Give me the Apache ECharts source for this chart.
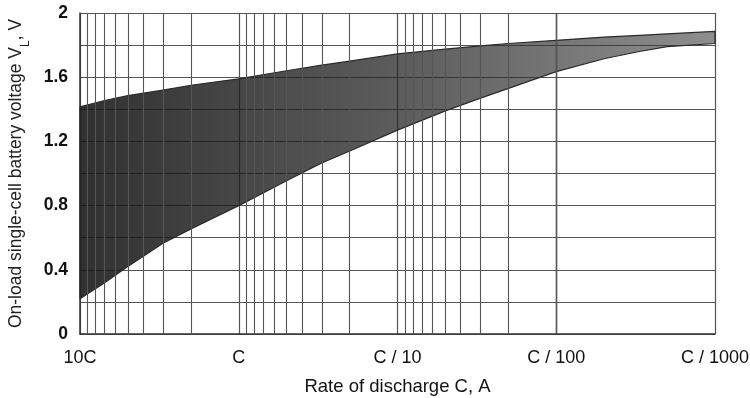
<!DOCTYPE html>
<html>
<head>
<meta charset="utf-8">
<script src="https://cdn.jsdelivr.net/npm/echarts@6/dist/echarts.min.js"></script>
<style>
html,body{margin:0;padding:0;background:#fff;}
#chart{width:750px;height:398px;}
</style>
</head>
<body>
<div id="chart"></div>
<script>
// Rate of discharge, as a multiple of C (10C ... C/1000)
var rates = [10, 7, 5, 3, 2, 1, 0.5, 0.3, 0.2, 0.1, 0.05, 0.03, 0.02, 0.01, 0.005, 0.003, 0.002, 0.001];
// Upper boundary of the voltage band, V
var upperV = [1.415, 1.455, 1.485, 1.52, 1.55, 1.59, 1.64, 1.675, 1.70, 1.745, 1.775, 1.795, 1.81, 1.83, 1.85, 1.86, 1.87, 1.885];
// Lower boundary of the voltage band, V
var lowerV = [0.22, 0.32, 0.42, 0.565, 0.655, 0.80, 0.955, 1.065, 1.14, 1.27, 1.39, 1.47, 1.53, 1.635, 1.715, 1.76, 1.79, 1.81];

var xTickValues = [10, 1, 0.1, 0.01, 0.001];
var xTickLabels = ['10C', 'C', 'C / 10', 'C / 100', 'C / 1000'];
var yTickValues = [0, 0.4, 0.8, 1.2, 1.6, 2];
var yTickLabels = ['0', '0.4', '0.8', '1.2', '1.6', '2'];

// minor log grid lines (2..9 within each decade)
var decades = [1, 0.1, 0.01, 0.001];
var minorMult = [2, 3, 4, 5, 6, 7, 8, 9];
var minorLines = [];
decades.forEach(function (d) { minorMult.forEach(function (m) { minorLines.push({ xAxis: m * d }); }); });

var FONT = "'Liberation Sans', Arial, Helvetica, sans-serif";
var chart = echarts.init(document.getElementById('chart'), null, { renderer: 'canvas' });

var bandData = rates.map(function (r, i) { return [r, lowerV[i], upperV[i]]; });

chart.setOption({
  animation: false,
  backgroundColor: '#ffffff',
  grid: { left: 80, right: 35, top: 13, bottom: 64, containLabel: false, outerBoundsMode: 'none' },
  xAxis: {
    type: 'log',
    logBase: 10,
    min: 0.001,
    max: 10,
    inverse: true,
    name: 'Rate of discharge C, A',
    nameLocation: 'middle',
    nameGap: 43,
    nameTextStyle: { fontFamily: FONT, fontSize: 18.5, color: '#111' },
    axisLine: { show: true, lineStyle: { color: '#333', width: 1.5 } },
    axisTick: { show: false },
    axisLabel: {
      fontFamily: FONT, fontSize: 18, color: '#111', margin: 15,
      formatter: function (v) {
        for (var i = 0; i < xTickValues.length; i++) {
          if (Math.abs(Math.log10(v) - Math.log10(xTickValues[i])) < 1e-6) return xTickLabels[i];
        }
        return '';
      }
    },
    splitLine: { show: true, lineStyle: { color: '#555', width: 1.2 } }
  },
  yAxis: {
    type: 'value',
    min: 0,
    max: 2,
    interval: 0.2,
    name: 'On-load single-cell battery voltage V{sub|L}, V',
    nameLocation: 'middle',
    nameGap: 55,
    nameRotate: 90,
    nameTextStyle: {
      fontFamily: FONT, fontSize: 17.5, color: '#222',
      rich: { sub: { fontFamily: FONT, fontSize: 12, color: '#222', verticalAlign: 'bottom', padding: [0, 0, -7, 0] } }
    },
    axisLine: { show: true, lineStyle: { color: '#333', width: 1.5 } },
    axisTick: { show: false },
    axisLabel: {
      fontFamily: FONT, fontSize: 17.5, fontWeight: 'bold', color: '#111', margin: 12,
      formatter: function (v) {
        for (var i = 0; i < yTickValues.length; i++) {
          if (Math.abs(v - yTickValues[i]) < 1e-6) return yTickLabels[i];
        }
        return '';
      }
    },
    splitLine: { show: true, lineStyle: { color: '#555', width: 1.2 } }
  },
  series: [
    {
      type: 'line',
      data: [],
      z: 1,
      silent: true,
      symbol: 'none',
      markLine: {
        silent: true,
        symbol: ['none', 'none'],
        label: { show: false },
        lineStyle: { color: '#555', width: 1.1, type: 'solid' },
        data: minorLines
      }
    },
    {
      type: 'custom',
      z: 2,
      silent: true,
      data: bandData,
      encode: { x: 0, y: [1, 2] },
      renderItem: function (params, api) {
        if (params.dataIndex !== 0) return null;
        var pts = [];
        for (var i = 0; i < rates.length; i++) pts.push(api.coord([rates[i], upperV[i]]));
        for (var j = rates.length - 1; j >= 0; j--) pts.push(api.coord([rates[j], lowerV[j]]));
        return {
          type: 'polygon',
          shape: { points: pts },
          style: {
            fill: new echarts.graphic.LinearGradient(0, 0, 1, 0, [
              { offset: 0, color: 'rgba(20,20,20,0.88)' },
              { offset: 0.5, color: 'rgba(35,35,35,0.74)' },
              { offset: 1, color: 'rgba(60,60,60,0.58)' }
            ]),
            stroke: '#2a2a2a',
            lineWidth: 1.2,
            lineJoin: 'round'
          }
        };
      }
    }
  ]
});
</script>
</body>
</html>
